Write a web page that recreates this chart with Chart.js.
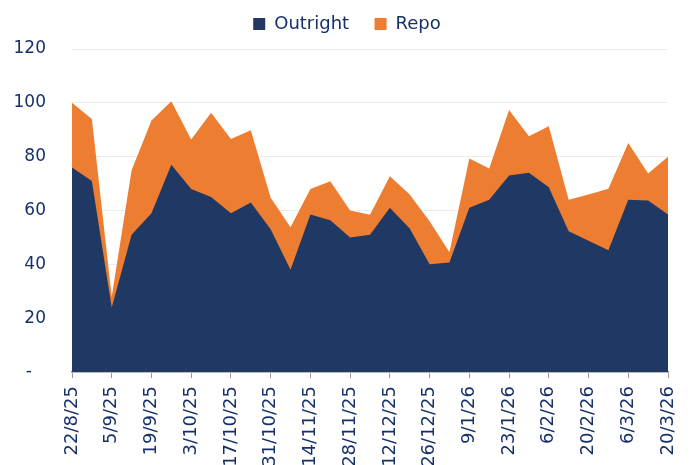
<!DOCTYPE html>
<html>
<head>
<meta charset="utf-8">
<script src="https://cdn.jsdelivr.net/npm/chart.js@4"></script>
<style>
  html, body { margin: 0; padding: 0; background: #fff; overflow: hidden; }
  #wrap { width: 690px; height: 465px; }
</style>
</head>
<body>
<div id="wrap"><canvas id="myChart" width="690" height="465"></canvas></div>
<script>
// weekly dates, 22/8/25 .. 20/3/26
const labels = [
  '22/8/25', '29/8/25', '5/9/25', '12/9/25', '19/9/25', '26/9/25',
  '3/10/25', '10/10/25', '17/10/25', '24/10/25', '31/10/25', '7/11/25',
  '14/11/25', '21/11/25', '28/11/25', '5/12/25', '12/12/25', '19/12/25',
  '26/12/25', '2/1/26', '9/1/26', '16/1/26', '23/1/26', '30/1/26',
  '6/2/26', '13/2/26', '20/2/26', '27/2/26', '6/3/26', '13/3/26', '20/3/26'
];

const outright = [76, 71, 24, 51, 59, 77, 68, 65, 59, 63, 53, 38, 58.5, 56.4, 50, 51,
  61, 53.3, 40, 40.7, 61, 64, 73, 74, 68.6, 52.3, 48.8, 45.2, 64, 63.7, 58.5];

const repo = [24, 23, 4, 24, 34.4, 23.6, 18.4, 31.3, 27.6, 26.8, 11.7, 15.8, 9.5, 14.5, 10, 7.4,
  11.7, 12.6, 16, 3.8, 18.3, 11.6, 24.3, 13.6, 22.7, 11.7, 17.1, 22.9, 21.1, 10, 21.5];

const yTicks = [0, 20, 40, 60, 80, 100, 120];

const navy = '#203864';
const orange = '#ED7D31';
const textColor = '#15306a';
const font = 'DejaVu Sans';

// legend sits a little right of centre and higher up
const legendShift = {
  id: 'legendShift',
  afterLayout(chart) {
    chart.legend.left += 13;
    chart.legend.right += 13;
    chart.legend.top -= 6;
    chart.legend.bottom -= 6;
  }
};

const data = {
  labels: labels,
  datasets: [
    {
      label: 'Outright',
      data: outright,
      backgroundColor: navy,
      borderColor: navy,
      borderWidth: 0,
      pointRadius: 0,
      tension: 0,
      fill: 'origin'
    },
    {
      label: 'Repo',
      data: repo,
      backgroundColor: orange,
      borderColor: orange,
      borderWidth: 0,
      pointRadius: 0,
      tension: 0,
      fill: 'origin'
    }
  ]
};

const config = {
  type: 'line',
  data: data,
  plugins: [legendShift],
  options: {
    responsive: false,
    animation: false,
    layout: { padding: { top: 0, right: 22, left: 0, bottom: 0 } },
    plugins: {
      tooltip: { enabled: false },
      legend: {
        position: 'top',
        labels: {
          color: textColor,
          font: { family: font, size: 18 },
          boxWidth: 12,
          boxHeight: 12,
          padding: 14,
          generateLabels: (chart) => {
            const items = Chart.defaults.plugins.legend.labels.generateLabels(chart);
            items.forEach((it, i) => {
              if (i === 0) it.text = it.text + '  ';
            });
            return items;
          }
        }
      }
    },
    scales: {
      x: {
        offset: false,
        grid: {
          display: true,
          drawOnChartArea: false,
          drawTicks: true,
          tickLength: 6,
          color: '#9a9a9a'
        },
        border: { display: true, color: '#8a8a8a', width: 1.5 },
        ticks: {
          autoSkip: false,
          minRotation: 90,
          maxRotation: 90,
          padding: 8,
          color: textColor,
          font: { family: font, size: 18 },
          callback: (v, i) => (i % 2 === 0 ? labels[i] : null)
        },
        afterFit: (scale) => {
          scale.height = 93;
          scale.paddingLeft = 0;
          scale.paddingRight = 0;
        }
      },
      y: {
        stacked: true,
        min: yTicks[0],
        max: yTicks[yTicks.length - 1],
        grid: {
          color: '#ececec',
          lineWidth: 1,
          drawTicks: false
        },
        border: { display: false },
        ticks: {
          stepSize: 20,
          padding: 26,
          color: textColor,
          font: { family: font, size: 17 },
          callback: (v) => (v === 0 ? '-  \u2009' : v)
        },
        afterFit: (scale) => {
          scale.width = 72;
          scale.paddingTop = 49;
        }
      }
    }
  }
};

const myChart = new Chart(document.getElementById('myChart'), config);
</script>
</body>
</html>
